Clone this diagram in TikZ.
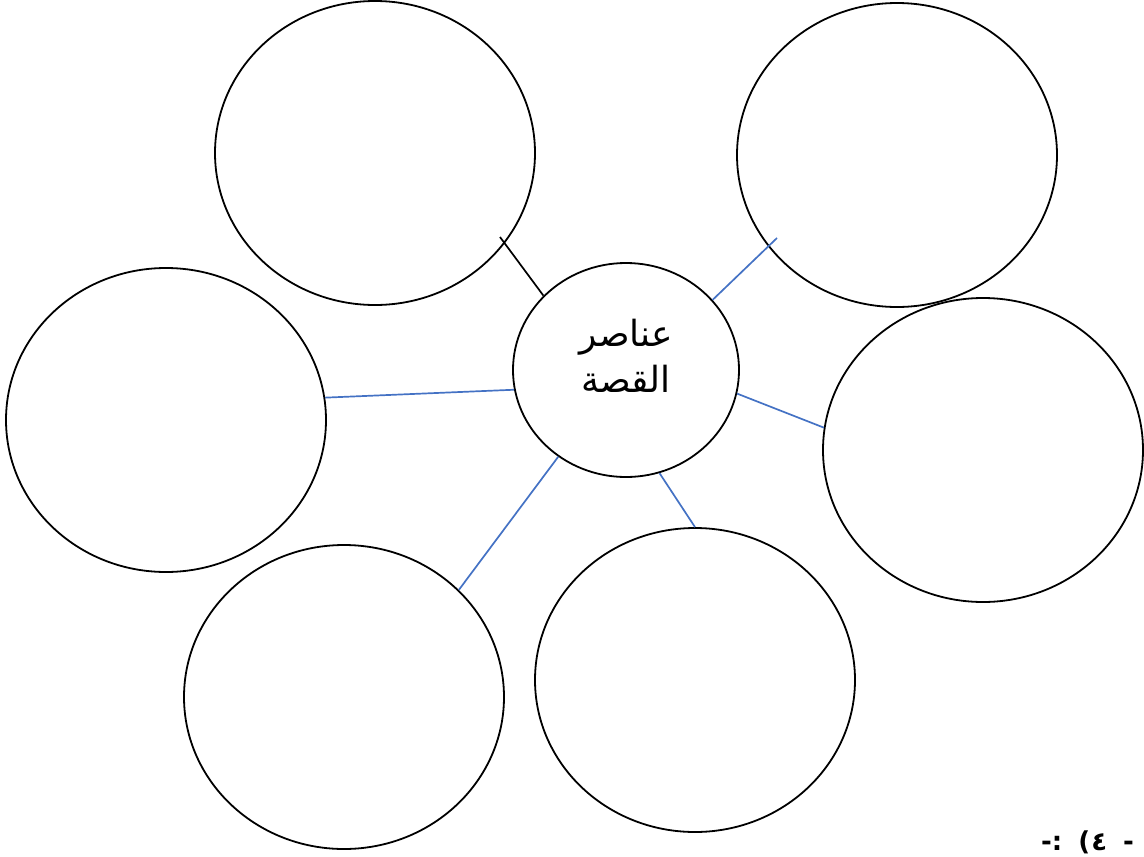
\documentclass[tikz,border=0pt]{standalone}
\usepackage{fontspec}
\newfontfamily\arabicfont[Script=Arabic]{DejaVu Sans}
\newfontfamily\numfont{DejaVu Sans}
\TeXXeTstate=1
\usetikzlibrary{shapes.geometric}
\definecolor{lineblue}{RGB}{68,114,196}
\tikzset{
  bubble/.style={draw, ellipse, line width=1.8pt, inner sep=0pt, minimum width=320pt, minimum height=304pt},
  link/.style={lineblue, line width=1.7pt}
}

\begin{document}
\begin{tikzpicture}[x=1pt, y=-1pt]
\clip (0,0) rectangle (1144,857);
% outer circles
\node[bubble] (topleft) at (375,153) {};
\node[bubble] (topright) at (897,155) {};
\node[bubble] (left) at (166,420) {};
\node[bubble] (right) at (983,450) {};
\node[bubble] (botleft) at (344,697) {};
\node[bubble] (botmid) at (695,680) {};
% middle circle
\node[bubble, minimum width=226pt, minimum height=214pt] (core) at (626,370) {};
\node[align=center, font=\arabicfont\fontsize{36}{46}\selectfont] (corelabel) at (626,356) {\beginR عناصر\endR\\\beginR القصة\endR};
\coordinate (tlend) at (500,237);
\coordinate (trend) at (777,238);
\draw[line width=1.7pt] (tlend) -- (core.138);
\draw[link] (core.39) -- (trend);
\draw[link] (core.190.7) -- (left.8);
\draw[link] (core.348.8) -- (right.172.5);
\draw[link] (core.232) -- (botleft.43.3);
\draw[link] (core.288.8) -- (botmid.90);
\node[anchor=base west, inner sep=0pt, font=\numfont\bfseries\fontsize{26}{30}\selectfont] (partno) at (1041,850) {\hbox{-:}\hspace{16pt}\hbox{(}\kern1pt\hbox{٤}\hspace{16pt}\hbox{-}};
\end{tikzpicture}
\end{document}
